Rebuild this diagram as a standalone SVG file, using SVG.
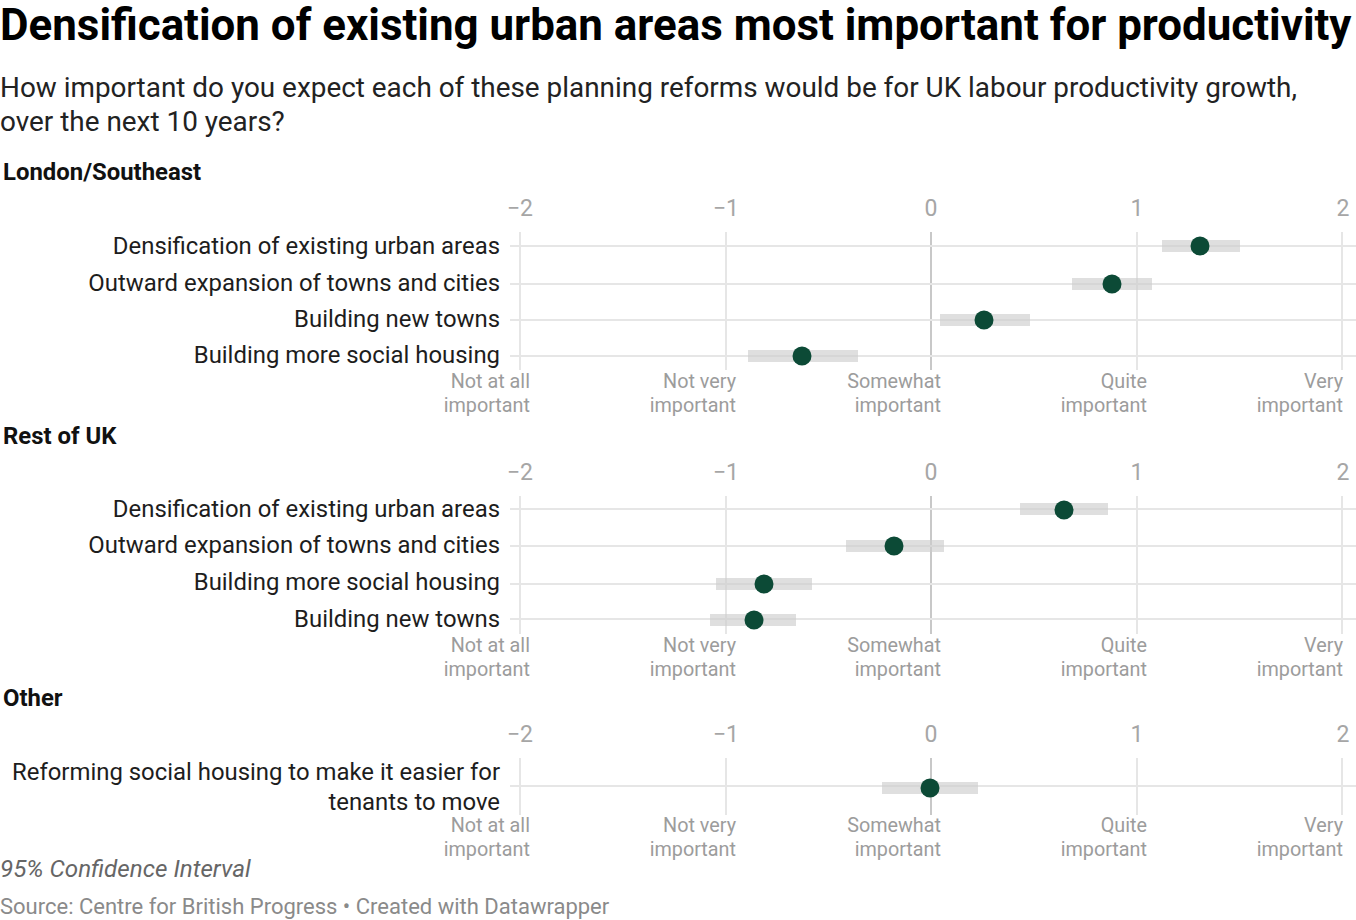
<svg xmlns="http://www.w3.org/2000/svg" width="1356" height="920" viewBox="0 0 1356 920">
<style>
text{font-family:Roboto,"Liberation Sans",sans-serif}
.title{font-size:43.9px;font-weight:700;fill:#000}
.sub{font-size:27.9px;fill:#222}
.sec{font-size:23.9px;font-weight:700;fill:#111}
.row{font-size:23.9px;fill:#1d1d1d;text-anchor:end}
.tick{font-size:23px;fill:#a6a6a6;text-anchor:middle}
.cat{font-size:19.8px;fill:#9c9c9c;text-anchor:end}
.note{font-size:24.2px;font-style:italic;fill:#666}
.src{font-size:22px;fill:#8a8a8a}
.grid{stroke:#e6e6e6;stroke-width:2}
.zero{stroke:#c8c8c8;stroke-width:2}
.ci{fill:#cccccc;fill-opacity:0.62}
.dot{fill:#0c4a36}
</style>
<rect width="1356" height="920" fill="#fff"/>
<text class="title" x="0" y="40">Densification of existing urban areas most important for productivity</text>
<text class="sub" x="0" y="97">How important do you expect each of these planning reforms would be for UK labour productivity growth,</text>
<text class="sub" x="0" y="131">over the next 10 years?</text>

<g id="panel-london">
<text class="sec" x="3" y="180">London/Southeast</text>
<g id="axis-london">
<text class="tick" x="520" y="216">−2</text><text class="tick" x="726" y="216">−1</text><text class="tick" x="931" y="216">0</text><text class="tick" x="1137" y="216">1</text><text class="tick" x="1343" y="216">2</text>
<line class="grid" x1="520" y1="232" x2="520" y2="370"/><line class="grid" x1="726" y1="232" x2="726" y2="370"/><line class="zero" x1="931" y1="232" x2="931" y2="370"/><line class="grid" x1="1137" y1="232" x2="1137" y2="370"/><line class="grid" x1="1342" y1="232" x2="1342" y2="370"/>
<line class="grid" x1="510" y1="246" x2="1356" y2="246"/><line class="grid" x1="510" y1="284" x2="1356" y2="284"/><line class="grid" x1="510" y1="320" x2="1356" y2="320"/><line class="grid" x1="510" y1="356" x2="1356" y2="356"/>
<text class="cat" x="530" y="388">Not at all</text><text class="cat" x="530" y="412">important</text>
<text class="cat" x="736" y="388">Not very</text><text class="cat" x="736" y="412">important</text>
<text class="cat" x="941" y="388">Somewhat</text><text class="cat" x="941" y="412">important</text>
<text class="cat" x="1147" y="388">Quite</text><text class="cat" x="1147" y="412">important</text>
<text class="cat" x="1343" y="388">Very</text><text class="cat" x="1343" y="412">important</text>
</g>
<g id="l-densification"><text class="row" x="500" y="254">Densification of existing urban areas</text><rect class="ci" x="1162" y="240" width="78" height="12"/><circle class="dot" cx="1200" cy="246" r="9.5"/></g>
<g id="l-outward"><text class="row" x="500" y="291">Outward expansion of towns and cities</text><rect class="ci" x="1072" y="278" width="80" height="12"/><circle class="dot" cx="1112" cy="284" r="9.5"/></g>
<g id="l-newtowns"><text class="row" x="500" y="327">Building new towns</text><rect class="ci" x="940" y="314" width="90" height="12"/><circle class="dot" cx="984" cy="320" r="9.5"/></g>
<g id="l-social"><text class="row" x="500" y="363">Building more social housing</text><rect class="ci" x="748" y="350" width="110" height="12"/><circle class="dot" cx="802" cy="356" r="9.5"/></g>
</g>

<g id="panel-rest">
<text class="sec" x="3" y="444">Rest of UK</text>
<g id="axis-rest">
<text class="tick" x="520" y="480">−2</text><text class="tick" x="726" y="480">−1</text><text class="tick" x="931" y="480">0</text><text class="tick" x="1137" y="480">1</text><text class="tick" x="1343" y="480">2</text>
<line class="grid" x1="520" y1="496" x2="520" y2="634"/><line class="grid" x1="726" y1="496" x2="726" y2="634"/><line class="zero" x1="931" y1="496" x2="931" y2="634"/><line class="grid" x1="1137" y1="496" x2="1137" y2="634"/><line class="grid" x1="1342" y1="496" x2="1342" y2="634"/>
<line class="grid" x1="510" y1="509" x2="1356" y2="509"/><line class="grid" x1="510" y1="546" x2="1356" y2="546"/><line class="grid" x1="510" y1="584" x2="1356" y2="584"/><line class="grid" x1="510" y1="619" x2="1356" y2="619"/>
<text class="cat" x="530" y="652">Not at all</text><text class="cat" x="530" y="676">important</text>
<text class="cat" x="736" y="652">Not very</text><text class="cat" x="736" y="676">important</text>
<text class="cat" x="941" y="652">Somewhat</text><text class="cat" x="941" y="676">important</text>
<text class="cat" x="1147" y="652">Quite</text><text class="cat" x="1147" y="676">important</text>
<text class="cat" x="1343" y="652">Very</text><text class="cat" x="1343" y="676">important</text>
</g>
<g id="r-densification"><text class="row" x="500" y="517">Densification of existing urban areas</text><rect class="ci" x="1020" y="503" width="88" height="12"/><circle class="dot" cx="1064" cy="510" r="9.5"/></g>
<g id="r-outward"><text class="row" x="500" y="553">Outward expansion of towns and cities</text><rect class="ci" x="846" y="540" width="98" height="12"/><circle class="dot" cx="894" cy="546" r="9.5"/></g>
<g id="r-social"><text class="row" x="500" y="590">Building more social housing</text><rect class="ci" x="716" y="578" width="96" height="12"/><circle class="dot" cx="764" cy="584" r="9.5"/></g>
<g id="r-newtowns"><text class="row" x="500" y="627">Building new towns</text><rect class="ci" x="710" y="614" width="86" height="12"/><circle class="dot" cx="754" cy="620" r="9.5"/></g>
</g>

<g id="panel-other">
<text class="sec" x="3" y="706">Other</text>
<g id="axis-other">
<text class="tick" x="520" y="742">−2</text><text class="tick" x="726" y="742">−1</text><text class="tick" x="931" y="742">0</text><text class="tick" x="1137" y="742">1</text><text class="tick" x="1343" y="742">2</text>
<line class="grid" x1="520" y1="758" x2="520" y2="815"/><line class="grid" x1="726" y1="758" x2="726" y2="815"/><line class="zero" x1="931" y1="758" x2="931" y2="815"/><line class="grid" x1="1137" y1="758" x2="1137" y2="815"/><line class="grid" x1="1342" y1="758" x2="1342" y2="815"/>
<line class="grid" x1="510" y1="786" x2="1356" y2="786"/>
<text class="cat" x="530" y="832">Not at all</text><text class="cat" x="530" y="856">important</text>
<text class="cat" x="736" y="832">Not very</text><text class="cat" x="736" y="856">important</text>
<text class="cat" x="941" y="832">Somewhat</text><text class="cat" x="941" y="856">important</text>
<text class="cat" x="1147" y="832">Quite</text><text class="cat" x="1147" y="856">important</text>
<text class="cat" x="1343" y="832">Very</text><text class="cat" x="1343" y="856">important</text>
</g>
<g id="o-reforming"><text class="row" x="500" y="780">Reforming social housing to make it easier for</text><text class="row" x="500" y="810">tenants to move</text><rect class="ci" x="882" y="782" width="96" height="12"/><circle class="dot" cx="930" cy="788" r="9.5"/></g>
</g>

<text class="note" x="0" y="877">95% Confidence Interval</text>
<text class="src" x="0" y="914">Source: Centre for British Progress • Created with Datawrapper</text>
</svg>
